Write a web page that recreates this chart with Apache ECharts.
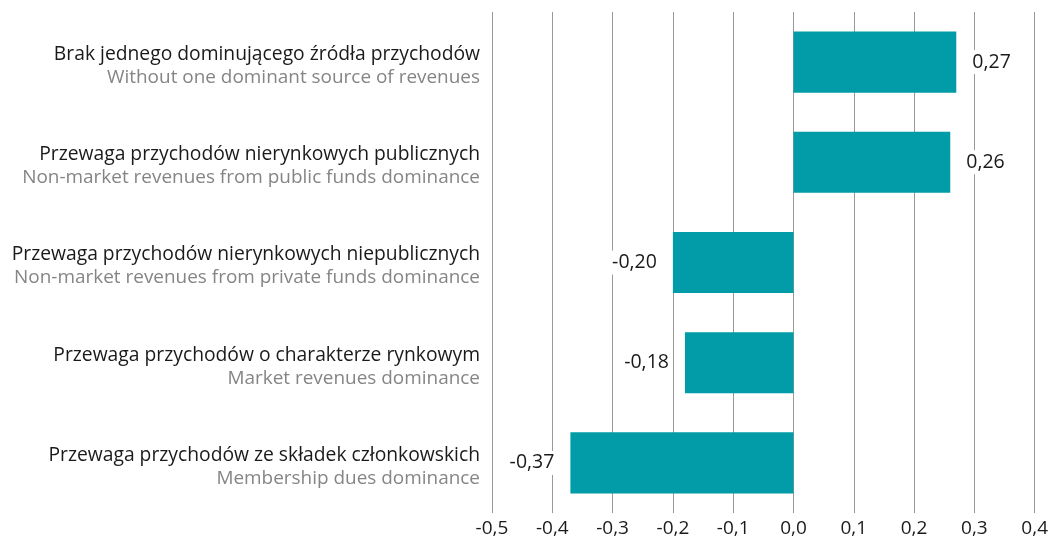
<!DOCTYPE html>
<html><head><meta charset="utf-8">
<script src="https://cdn.jsdelivr.net/npm/echarts@6/dist/echarts.min.js"></script>
<style>html,body{margin:0;padding:0;background:#fff}#c{width:1051px;height:540px}</style>
</head><body><div id="c"></div>
<script>
const categoriesPL = [
  'Brak jednego dominującego źródła przychodów',
  'Przewaga przychodów nierynkowych publicznych',
  'Przewaga przychodów nierynkowych niepublicznych',
  'Przewaga przychodów o charakterze rynkowym',
  'Przewaga przychodów ze składek członkowskich'
];
const categoriesEN = [
  'Without one dominant source of revenues',
  'Non-market revenues from public funds dominance',
  'Non-market revenues from private funds dominance',
  'Market revenues dominance',
  'Membership dues dominance'
];
const values = [0.27, 0.26, -0.20, -0.18, -0.37];
const xTicks = [-0.5, -0.4, -0.3, -0.2, -0.1, 0.0, 0.1, 0.2, 0.3, 0.4];

const FONT = 'Open Sans';
const fmt = v => v.toFixed(2).replace('.', ',');
const chart = echarts.init(document.getElementById('c'));
chart.setOption({
  animation: false,
  grid: {left: 492, right: 13, top: 12, bottom: 27, containLabel: false},
  xAxis: {
    type: 'value', min: xTicks[0], max: xTicks[xTicks.length - 1], interval: 0.1,
    axisLine: {show: false}, axisTick: {show: false},
    splitLine: {show: true, lineStyle: {color: '#999999', width: 1}},
    axisLabel: {
      fontFamily: FONT, fontSize: 19, color: '#1a1a1a', margin: 6,
      formatter: v => (Math.round(v * 10) / 10).toFixed(1).replace('.', ',')
    }
  },
  yAxis: {
    type: 'category', inverse: true,
    data: categoriesPL.map((p, i) => p + '\n' + categoriesEN[i]),
    axisLine: {show: false}, axisTick: {show: false}, splitLine: {show: false},
    axisLabel: {
      margin: 12, align: 'right', padding: [8, 0, 0, 0],
      formatter: (v) => { const [a, b] = v.split('\n'); return '{a|' + a + '}\n{b|' + b + '}'; },
      rich: {
        a: {fontFamily: FONT, fontSize: 19.3, color: '#1a1a1a', lineHeight: 23, align: 'right'},
        b: {fontFamily: FONT, fontSize: 18.95, color: '#858585', lineHeight: 23, align: 'right'}
      }
    }
  },
  series: [{
    type: 'bar',
    data: values.map(v => ({
      value: v,
      label: {position: v >= 0 ? 'right' : 'left'}
    })),
    barWidth: '61%',
    itemStyle: {color: '#029ca8'},
    label: {
      show: true, distance: 12, fontFamily: FONT, fontSize: 19.5, color: '#1a1a1a',
      backgroundColor: '#fff', padding: [2, 4],
      formatter: p => fmt(p.value)
    }
  }]
});
</script></body></html>
